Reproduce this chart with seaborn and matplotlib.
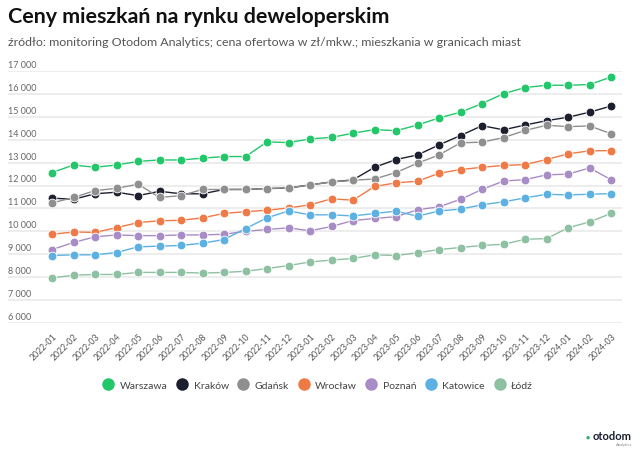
import matplotlib
matplotlib.use("Agg")
import matplotlib.pyplot as plt
import seaborn as sns
import pandas as pd
from matplotlib.lines import Line2D

months = ["2022-01", "2022-02", "2022-03", "2022-04", "2022-05", "2022-06", "2022-07",
          "2022-08", "2022-09", "2022-10", "2022-11", "2022-12", "2023-01", "2023-02",
          "2023-03", "2023-04", "2023-05", "2023-06", "2023-07", "2023-08", "2023-09",
          "2023-10", "2023-11", "2023-12", "2024-01", "2024-02", "2024-03"]

warszawa = [12570, 12900, 12800, 12900, 13060, 13120, 13120, 13200, 13270, 13270, 13910, 13880, 14040, 14110,
            14290, 14450, 14400, 14650, 14960, 15210, 15590, 16020, 16290, 16390, 16390, 16420, 16750]
krakow = [11450, 11400, 11640, 11710, 11560, 11750, 11640, 11640, 11830, 11830, 11870, 11890, 12030, 12160,
          12250, 12800, 13140, 13340, 13780, 14190, 14620, 14440, 14650, 14840, 14990, 15210, 15480]
gdansk = [11240, 11480, 11780, 11880, 12060, 11480, 11560, 11830, 11830, 11830, 11870, 11900, 12030, 12160,
          12230, 12290, 12570, 12980, 13340, 13870, 13900, 14100, 14410, 14640, 14580, 14610, 14270]
wroclaw = [9870, 9970, 9950, 10160, 10380, 10460, 10480, 10590, 10780, 10860, 10920, 11020, 11160, 11420,
           11360, 11960, 12120, 12190, 12540, 12700, 12800, 12880, 12920, 13140, 13390, 13520, 13530]
poznan = [9200, 9510, 9760, 9840, 9810, 9810, 9840, 9840, 9870, 10000, 10080, 10150, 10020, 10210,
          10470, 10560, 10640, 10940, 11070, 11400, 11830, 12200, 12260, 12470, 12500, 12770, 12260]
katowice = [8940, 8970, 8970, 9070, 9320, 9350, 9380, 9480, 9640, 10120, 10590, 10890, 10720, 10720,
            10670, 10780, 10880, 10660, 10890, 10970, 11160, 11290, 11460, 11620, 11590, 11620, 11650]
lodz = [7960, 8080, 8110, 8110, 8200, 8200, 8200, 8170, 8200, 8250, 8370, 8500, 8660, 8740,
        8810, 8970, 8940, 9060, 9200, 9290, 9380, 9430, 9650, 9680, 10150, 10410, 10780]

cities = ["Warszawa", "Kraków", "Gdańsk", "Wrocław", "Poznań", "Katowice", "Łódź"]
series = [warszawa, krakow, gdansk, wroclaw, poznan, katowice, lodz]
colors = ["#22c76a", "#1b1f2e", "#8f8f8f", "#f07a45", "#a88cc6", "#5cb1e2", "#8ec0a2"]

yticks = [6000, 7000, 8000, 9000, 10000, 11000, 12000, 13000, 14000, 15000, 16000, 17000]
ytick_labels = ["6 000", "7 000", "8 000", "9 000", "10 000", "11 000", "12 000",
                "13 000", "14 000", "15 000", "16 000", "17 000"]

rows = []
for city, vals in zip(cities, series):
    for i, (m, v) in enumerate(zip(months, vals)):
        rows.append({"idx": i, "month": m, "city": city, "value": v})
df = pd.DataFrame(rows)

sns.set_theme(style="white")
plt.rcParams["font.family"] = ["Lato", "DejaVu Sans"]

W, H = 640, 452
fig = plt.figure(figsize=(W / 100, H / 100), dpi=100)
fig.patch.set_facecolor("white")

def px(x0, y0, x1, y1):
    return [x0 / W, 1 - y1 / H, (x1 - x0) / W, (y1 - y0) / H]

ax = fig.add_axes(px(8, 72.3, 622, 323.7))

# gridlines
for v in yticks:
    ax.axhline(v, color="#e8e8e8", lw=1.1, zorder=0)

sns.lineplot(data=df, x="idx", y="value", hue="city", hue_order=cities,
             palette=colors, marker="o", markersize=6.3, markeredgecolor="white",
             markeredgewidth=0.6, linewidth=1.0, legend=False, ax=ax, zorder=3)

ax.set_xlim(-2.05, 26.51)
ax.set_ylim(6000, 17000)
for s in ax.spines.values():
    s.set_visible(False)
ax.set_xlabel("")
ax.set_ylabel("")
ax.set_yticks([])
ax.set_xticks(range(len(months)))
ax.set_xticklabels(months, rotation=45, ha="right", rotation_mode="anchor",
                   fontsize=6.3, color="#555555")
ax.tick_params(axis="x", length=0, pad=6)

for v, lbl in zip(yticks, ytick_labels):
    ax.annotate(lbl, xy=(0, v), xycoords=ax.get_yaxis_transform(),
                xytext=(0, 1.5), textcoords="offset points",
                ha="left", va="bottom", fontsize=6.5, color="#666666")

# title & subtitle
fig.text(8 / W, 1 - 17 / H, "Ceny mieszkań na rynku deweloperskim",
         fontsize=15.4, fontweight="bold", color="#111111", va="center", ha="left")
fig.text(8 / W, 1 - 43 / H,
         "źródło: monitoring Otodom Analytics; cena ofertowa w zł/mkw.; mieszkania w granicach miast",
         fontsize=8.9, color="#555555", va="center", ha="left")

# legend
handles = [Line2D([0], [0], marker="o", color="none", markerfacecolor=c,
                  markeredgecolor=c, markersize=8) for c in colors]
fig.legend(handles, cities, loc="center", bbox_to_anchor=(318 / W, 1 - 386 / H),
           ncol=len(cities), frameon=False, fontsize=7.5, handlelength=1.0,
           handletextpad=0.6, columnspacing=0.9, labelcolor="#444444")

# logo
fig.text(632 / W, 1 - 437 / H, "otodom", fontsize=8, fontweight="bold",
         color="#1b1f2e", ha="right", va="center")
fig.text(632 / W, 1 - 445 / H, "Analytics", fontsize=3, color="#888888",
         ha="right", va="center")
fig.text(590 / W, 1 - 437 / H, "●", fontsize=5, color="#3aa86b", ha="right", va="center")

fig.savefig("out.png", dpi=100, facecolor="white")
